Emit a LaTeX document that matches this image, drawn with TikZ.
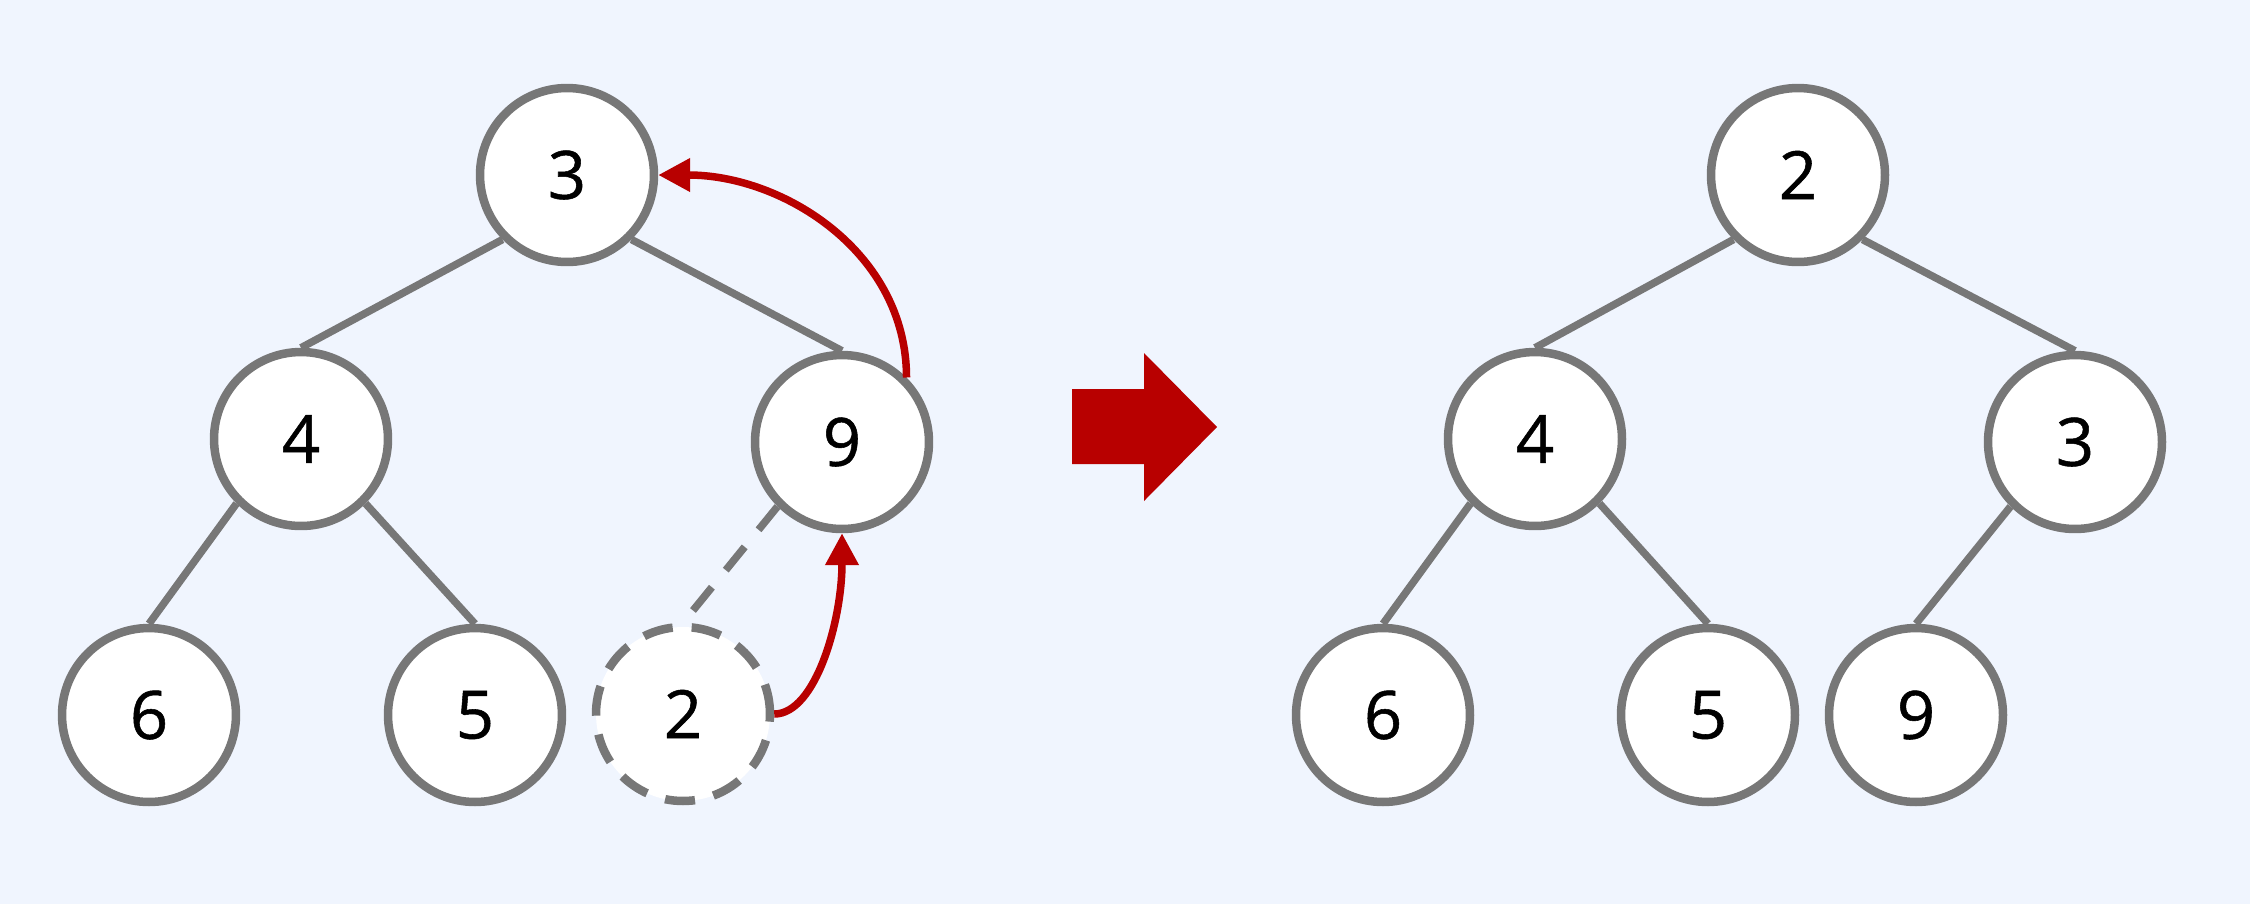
\documentclass[tikz,border=0pt]{standalone}
\usepackage{fontspec}
\setmainfont{Open Sans}[FakeBold=0.8]
\usetikzlibrary{arrows.meta}
\definecolor{bgc}{HTML}{F0F5FE}
\definecolor{edgegray}{HTML}{777777}
\definecolor{hred}{HTML}{B80000}
\pgfdeclarelayer{bg}
\pgfdeclarelayer{edges}
\pgfsetlayers{bg,edges,main}
\begin{document}
\begin{tikzpicture}[x=0.02cm,y=-0.02cm,
  hnode/.style={circle,draw=edgegray,fill=white,line width=0.17cm,minimum size=3.48cm,inner sep=0pt,
    font=\fontsize{38}{46}\selectfont},
  ghost/.style={hnode,dash pattern=on 0.6cm off 0.38cm},
  tedge/.style={draw=edgegray,line width=0.15cm},
  dedge/.style={tedge,dash pattern=on 0.6cm off 0.44cm},
  swaparrow/.style={draw=hred,line width=0.15cm,-{Triangle[length=0.64cm,width=0.64cm]}}
]
\begin{pgfonlayer}{bg}
\fill[bgc] (0,0) rectangle (2250,904);
\end{pgfonlayer}
\useasboundingbox (0,0) rectangle (2250,904);

% left tree
\node[hnode] (L3) at (567,175) {3};
\node[hnode] (L4) at (301,439) {4};
\node[hnode] (L9) at (842,442) {9};
\node[hnode] (L6) at (149,715) {6};
\node[hnode] (L5) at (475,715) {5};
\node[ghost] (L2) at (683,714) {2};

% right tree
\node[hnode] (R2) at (1798,175) {2};
\node[hnode] (R4) at (1535,439) {4};
\node[hnode] (R3) at (2075,442) {3};
\node[hnode] (R6) at (1383,715) {6};
\node[hnode] (R5) at (1708,715) {5};
\node[hnode] (R9) at (1916,715) {9};

\begin{pgfonlayer}{edges}
\draw[tedge] (L3.south west) -- (L4.north);
\draw[tedge] (L3.south east) -- (L9.north);
\draw[tedge] (L4.south west) -- (L6.north);
\draw[tedge] (L4.south east) -- (L5.north);
\draw[dedge] (L9.south west) -- (L2.north);
\draw[tedge] (R2.south west) -- (R4.north);
\draw[tedge] (R2.south east) -- (R3.north);
\draw[tedge] (R4.south west) -- (R6.north);
\draw[tedge] (R4.south east) -- (R5.north);
\draw[tedge] (R3.south west) -- (R9.north);
\end{pgfonlayer}

% swap arrows
\draw[swaparrow] (L9.north east) to[out=90,in=0] (L3.east);
\draw[swaparrow] (L2.east) to[out=0,in=-90,out looseness=0.55,in looseness=1.15] (L9.south);

% big transition arrow
\fill[hred] (1072,389) -- (1144,389) -- (1144,353) -- (1217,427) -- (1144,501) -- (1144,464) -- (1072,464) -- cycle;
\end{tikzpicture}
\end{document}
